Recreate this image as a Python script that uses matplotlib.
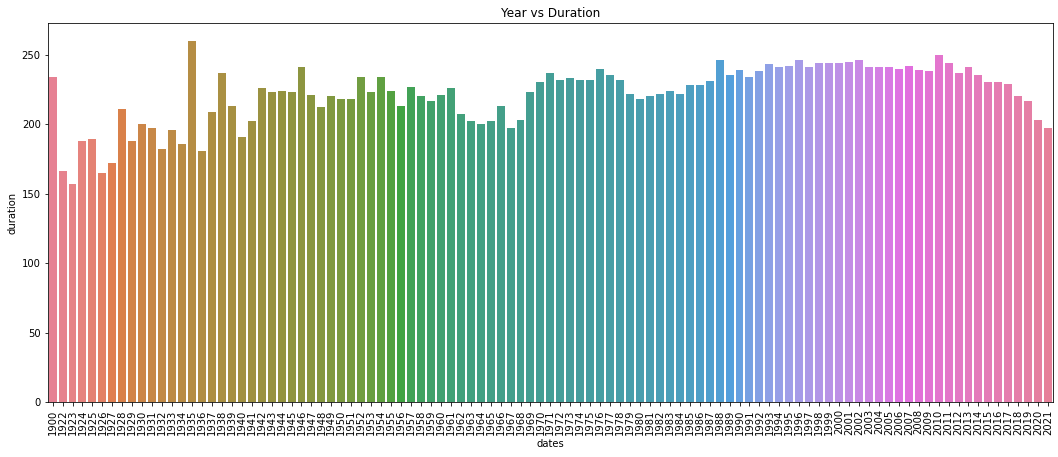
import matplotlib
matplotlib.use("Agg")
import matplotlib.pyplot as plt
import seaborn as sns
import pandas as pd

dates = ["1900"] + [str(y) for y in range(1922, 2022)]
duration = [234,166,157,188,189,165,172,211,188,200,
            197,182,196,186,260,181,209,237,213,191,
            202,226,223,224,223,241,221,212,220,218,
            218,234,223,234,224,213,227,220,217,221,
            226,207,202,200,202,213,197,203,223,230,
            237,232,233,232,232,240,235,232,222,218,
            220,222,224,222,228,228,231,246,235,239,
            234,238,243,241,242,246,241,244,244,244,
            245,246,241,241,241,240,242,239,238,250,
            244,237,241,235,230,230,229,220,217,203,
            197]

df = pd.DataFrame({"dates": dates, "duration": duration})
fig, ax = plt.subplots(figsize=(14.7, 6.35), dpi=72)
sns.barplot(data=df, x="dates", y="duration", hue="dates", palette="husl",
            legend=False, ax=ax, saturation=0.75)
ax.set_title("Year vs Duration")
ax.tick_params(axis="x", rotation=90)
plt.subplots_adjust(left=0.045, right=0.995, top=0.95, bottom=0.12)
fig.savefig("out.png")
